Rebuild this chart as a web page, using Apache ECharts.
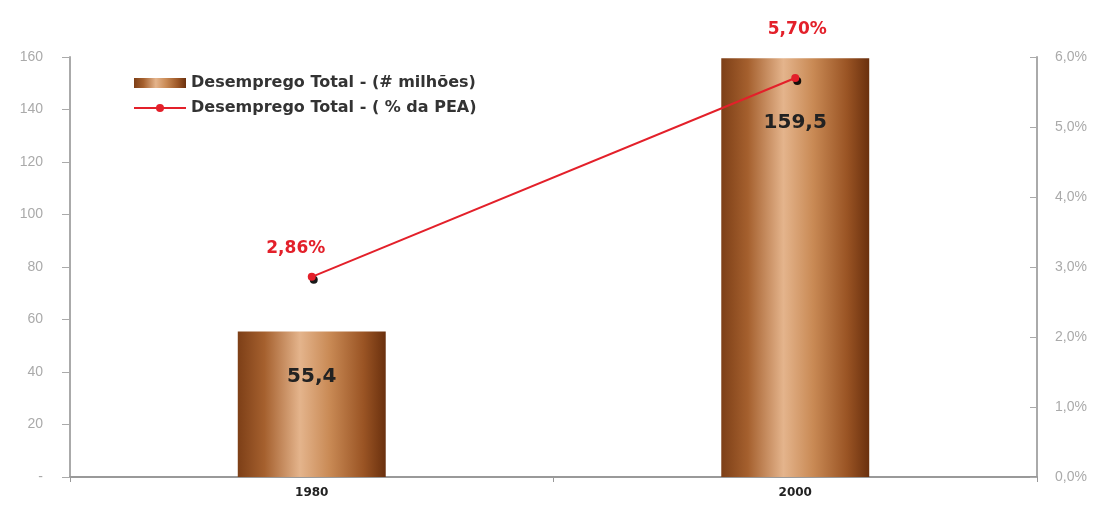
<!DOCTYPE html>
<html><head><meta charset="utf-8">
<script src="https://cdn.jsdelivr.net/npm/echarts@6/dist/echarts.min.js"></script>
<style>html,body{margin:0;padding:0;background:#fff}#c{width:1101px;height:512px}</style>
</head><body><div id="c"></div>
<script>
var categories = ['1980', '2000'];
var desempregoMilhoes = [55.4, 159.5];
var desempregoPct = [2.86, 5.70];
var leftTicks = ['-', '20', '40', '60', '80', '100', '120', '140', '160'];
var rightTicks = ['0,0%', '1,0%', '2,0%', '3,0%', '4,0%', '5,0%', '6,0%'];
var barName = 'Desemprego Total - (# milhões)';
var lineName = 'Desemprego Total - ( % da PEA)';

var chart = echarts.init(document.getElementById('c'));
var font = "'Liberation Sans', Arial, sans-serif";
var boldFont = "'DejaVu Sans', 'Liberation Sans', sans-serif";
var barGrad = new echarts.graphic.LinearGradient(0, 0, 1, 0, [
  {offset: 0, color: '#7d3f17'},
  {offset: 0.18, color: '#a5602e'},
  {offset: 0.42, color: '#e4b48c'},
  {offset: 0.62, color: '#c98a55'},
  {offset: 0.85, color: '#9a5424'},
  {offset: 1, color: '#6a300e'}
]);
var barLabelDist = [35, 54];
var lineLabelStyle = [{distance: 16, offset: [-16, 0]}, {distance: 36, offset: [2, 0]}];
var fmtNum = function (v) { return String(v).replace('.', ','); };
chart.setOption({
  animation: false,
  textStyle: {fontFamily: font},
  grid: {left: 70, right: 64, top: 57, bottom: 35},
  legend: {
    orient: 'vertical', left: 128, top: 70, itemGap: 9,
    itemWidth: 52, itemHeight: 10,
    textStyle: {fontFamily: boldFont, fontWeight: 'bold', fontSize: 16, color: '#333'},
    data: [
      {name: barName, icon: 'rect'},
      {name: lineName}
    ]
  },
  xAxis: {
    type: 'category', data: categories,
    axisLine: {lineStyle: {color: '#999', width: 2}},
    axisTick: {show: true, alignWithLabel: false, lineStyle: {color: '#999'}, length: 5},
    axisLabel: {color: '#222', fontWeight: 'bold', fontSize: 12, margin: 10, fontFamily: boldFont}
  },
  yAxis: [{
    type: 'value', min: 0, max: 160, interval: 20,
    splitLine: {show: false},
    axisLine: {show: true, lineStyle: {color: '#aaa', width: 2}},
    axisTick: {show: true, length: 8, lineStyle: {color: '#aaa'}},
    axisLabel: {color: '#aaa', fontSize: 14, margin: 27, fontFamily: font,
      formatter: function (v) { return leftTicks[Math.round(v / 20)]; }}
  }, {
    type: 'value', min: 0, max: 6, interval: 1, position: 'right',
    splitLine: {show: false},
    axisLine: {show: true, lineStyle: {color: '#aaa', width: 2}},
    axisTick: {show: true, length: 7, inside: true, lineStyle: {color: '#aaa'}},
    axisLabel: {color: '#aaa', fontSize: 14, margin: 18, fontFamily: font,
      formatter: function (v) { return rightTicks[Math.round(v)]; }}
  }],
  series: [{
    name: barName, type: 'bar', yAxisIndex: 0, barWidth: '30.6%',
    itemStyle: {color: barGrad},
    data: desempregoMilhoes.map(function (v, i) {
      return {value: v, label: {distance: barLabelDist[i]}};
    }),
    label: {show: true, position: 'insideTop', color: '#222', fontWeight: 'bold',
      fontSize: 20, fontFamily: boldFont, formatter: function (p) { return fmtNum(p.value); }}
  }, {
    name: lineName, type: 'line', yAxisIndex: 1,
    data: desempregoPct.map(function (v, i) {
      return {value: v, label: lineLabelStyle[i]};
    }),
    symbol: 'circle', symbolSize: 8,
    lineStyle: {color: '#e3202a', width: 2},
    itemStyle: {color: '#e3202a', shadowColor: 'rgba(0,0,0,0.9)', shadowOffsetX: 2, shadowOffsetY: 3, shadowBlur: 0},
    label: {show: true, position: 'top', color: '#e3202a', fontWeight: 'bold',
      fontSize: 17, fontFamily: boldFont,
      formatter: function (p) { return p.value.toFixed(2).replace('.', ',') + '%'; }}
  }]
});
</script></body></html>
